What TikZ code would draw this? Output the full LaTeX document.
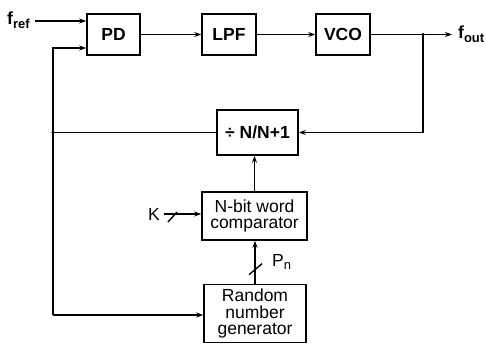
\documentclass[tikz,border=0pt]{standalone}
\usepackage{fontspec}
\setmainfont{Liberation Sans}
\usetikzlibrary{arrows.meta,calc}
\begin{document}
\begin{tikzpicture}[x=1pt,y=-1pt,
  blk/.style={draw,line width=1.6pt,rectangle,inner sep=0pt,align=center,font=\fontsize{17.5}{17}\selectfont\bfseries},
  blk2/.style={draw,line width=1.6pt,rectangle,inner sep=0pt,align=center,font=\fontsize{17.5}{16.8}\selectfont},
  wire/.style={line width=1.4pt},
  arr/.style={wire,-{Stealth[length=7pt,width=5pt]}},
  lbl/.style={inner sep=0pt,font=\fontsize{17.5}{17}\selectfont\bfseries},
  dotc/.style={circle,fill,inner sep=0pt,minimum size=3.5pt}]
\useasboundingbox (0,0) rectangle (486,345);
\node[blk,minimum width=53pt,minimum height=41pt] (PD) at (113.5,34.5) {PD};
\node[blk,minimum width=54pt,minimum height=41pt] (LPF) at (229,34.5) {LPF};
\node[blk,minimum width=54pt,minimum height=41pt] (VCO) at (343,34.5) {VCO};
\node[blk,minimum width=81pt,minimum height=45pt] (DIV) at (257.5,132.5) {÷ N/N+1};
\node[blk2,minimum width=105pt,minimum height=48pt] (CMP) at (254.5,216) {N-bit word\\comparator};
\node[blk2,minimum width=102pt,minimum height=58pt] (RNG) at (255,313.5) {Random\\number\\generator};
\node[lbl,anchor=west] (fref) at (7,20) {f\raisebox{-0.4ex}{\fontsize{13}{13}\selectfont ref}};
\node[lbl,anchor=west] (fout) at (458,34) {f\raisebox{-0.4ex}{\fontsize{13}{13}\selectfont out}};
\node[lbl,font=\fontsize{17.5}{17}\selectfont,anchor=east] (K) at (160,214) {K};
\node[lbl,font=\fontsize{17.5}{17}\selectfont,anchor=west] (Pn) at (272,262) {P\raisebox{-0.4ex}{\fontsize{13}{13}\selectfont n}};
\coordinate (j1) at (423,34.5);
\coordinate (j2) at (53,132.5);
\coordinate (c1) at (53,48);
\coordinate (c3) at (53,315);
\coordinate (r1) at (423,132.5);
\node[dotc] at (j1) {};
\node[dotc] at (j2) {};
% forward path
\draw[arr] (35,21) coordinate (fs) -- (fs -| PD.west);
\draw[arr] (PD) -- (LPF);
\draw[arr] (LPF) -- (VCO);
\draw[arr] (VCO) -- (452,34.5) coordinate (fo);
% feedback
\draw[arr] (j1) -- (r1) -- (DIV.east);
\draw[wire] (DIV.west) -- (j2);
\draw[arr] (c3) -- (c1) -- (c1 -| PD.west);
\draw[arr] (c3) -- (c3 -| RNG.west);
\draw[arr] (CMP.north) -- (CMP.north |- DIV.south);
\draw[arr] (164,214) coordinate (ks) -- (ks -| CMP.west);
\draw[wire] (168,222) -- (177,212);
\draw[arr] (RNG.north) -- (RNG.north |- CMP.south);
\draw[wire] (RNG.north) ++(-6,-9) -- ++(13,-11);
\end{tikzpicture}
\end{document}
